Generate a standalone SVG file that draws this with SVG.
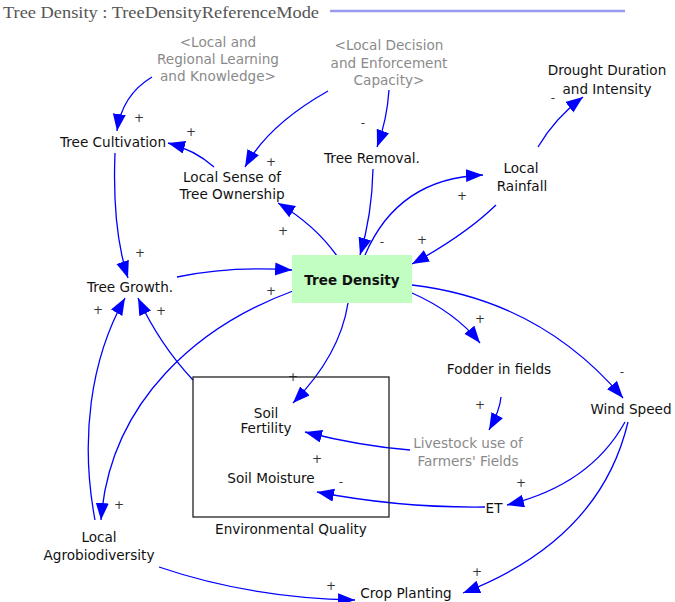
<svg xmlns="http://www.w3.org/2000/svg" width="675" height="602" viewBox="0 0 675 602">
<style>
.t{font-family:"DejaVu Sans","Liberation Sans",sans-serif;font-size:13.6px;fill:#111;text-anchor:middle}
.g{fill:#8a8a8a}
.b{font-weight:bold;font-size:13.5px}
.p{font-family:"DejaVu Sans","Liberation Sans",sans-serif;font-size:12px;fill:#333;text-anchor:middle}
.c{fill:none;stroke:#0000ff;stroke-width:1.3;marker-end:url(#ah)}
</style>
<defs>
<marker id="ah" markerUnits="userSpaceOnUse" markerWidth="20" markerHeight="16" refX="17" refY="6.5" orient="auto">
<path d="M0,0 L17,6.5 L0,13 z" fill="#0000ff"/>
</marker>
</defs>
<rect width="675" height="602" fill="#ffffff"/>
<g id="title">
<text x="3" y="18" font-family="Liberation Serif,serif" font-size="16" fill="#555" textLength="316" lengthAdjust="spacingAndGlyphs">Tree Density : TreeDensityReferenceMode</text>
<line x1="330" y1="11" x2="625" y2="11" stroke="#9a9af0" stroke-width="2.5"/>
</g>
<g id="connectors">
<path class="c" d="M152,77 Q122,95 117,131"/>
<path class="c" d="M328,91 Q268,125 245,167"/>
<path class="c" d="M214,167 Q195,150 168,143"/>
<path class="c" d="M389,90 Q387,120 377,147"/>
<path class="c" d="M373,169 Q372,215 360,255"/>
<path class="c" d="M365,255 Q398,178 483,175"/>
<path class="c" d="M496,205 Q465,235 412,264"/>
<path class="c" d="M538,147 Q555,118 583,97"/>
<path class="c" d="M337,256 Q315,225 278,203"/>
<path class="c" d="M115,153 Q112,230 128,278"/>
<path class="c" d="M177,277 Q230,266 292,270"/>
<path class="c" d="M293,291 C200,325 110,400 101,520"/>
<path class="c" d="M95,520 C80,440 90,360 125,298"/>
<path class="c" d="M193,380 Q160,345 138,298"/>
<path class="c" d="M348,303 Q340,355 293,403"/>
<path class="c" d="M412,293 Q455,312 480,343"/>
<path class="c" d="M412,285 Q540,300 623,398"/>
<path class="c" d="M501,397 Q500,410 489,430"/>
<path class="c" d="M410,450 Q360,446 305,432"/>
<path class="c" d="M625,422 Q590,485 507,505"/>
<path class="c" d="M485,507 Q400,508 317,492"/>
<path class="c" d="M628,422 Q600,540 463,593"/>
<path class="c" d="M159,567 Q250,598 355,600"/>
</g>
<g id="polarities">
<text class="p" x="139" y="122">+</text>
<text class="p" x="191" y="136">+</text>
<text class="p" x="271" y="166">+</text>
<text class="p" x="363" y="127">-</text>
<text class="p" x="553" y="102">-</text>
<text class="p" x="462" y="200">+</text>
<text class="p" x="382" y="246">-</text>
<text class="p" x="422" y="244">+</text>
<text class="p" x="283" y="235">+</text>
<text class="p" x="140" y="257">+</text>
<text class="p" x="271" y="295">+</text>
<text class="p" x="98" y="314">+</text>
<text class="p" x="161" y="315">+</text>
<text class="p" x="480" y="323">+</text>
<text class="p" x="622" y="376">-</text>
<text class="p" x="480" y="409">+</text>
<text class="p" x="521" y="487">+</text>
<text class="p" x="293" y="381">+</text>
<text class="p" x="317" y="463">+</text>
<text class="p" x="341" y="486">-</text>
<text class="p" x="119" y="509">+</text>
<text class="p" x="477" y="576">+</text>
<text class="p" x="331" y="590">+</text>
</g>
<g id="env-quality">
<rect x="193" y="377" width="196" height="140" fill="none" stroke="#222" stroke-width="1.3"/>
<text class="t" x="291" y="534">Environmental Quality</text>
</g>
<g id="local-learning">
<text class="t g" x="218" y="47">&lt;Local and</text>
<text class="t g" x="218" y="64">Regional Learning</text>
<text class="t g" x="218" y="81">and Knowledge&gt;</text>
</g>
<g id="local-decision">
<text class="t g" x="389" y="50">&lt;Local Decision</text>
<text class="t g" x="389" y="68">and Enforcement</text>
<text class="t g" x="389" y="85">Capacity&gt;</text>
</g>
<g id="drought">
<text class="t" x="607" y="75">Drought Duration</text>
<text class="t" x="607" y="94">and Intensity</text>
</g>
<g id="tree-cultivation">
<text class="t" x="113" y="147">Tree Cultivation</text>
</g>
<g id="local-sense">
<text class="t" x="232" y="182">Local Sense of</text>
<text class="t" x="232" y="199">Tree Ownership</text>
</g>
<g id="tree-removal">
<text class="t" x="372" y="163">Tree Removal.</text>
</g>
<g id="local-rainfall">
<text class="t" x="521" y="173">Local</text>
<text class="t" x="522" y="191">Rainfall</text>
</g>
<g id="tree-growth">
<text class="t" x="130" y="292">Tree Growth.</text>
</g>
<g id="tree-density">
<rect x="292" y="255" width="120" height="48" fill="#c2fdc2"/>
<text class="t b" x="352" y="285">Tree Density</text>
</g>
<g id="fodder">
<text class="t" x="499" y="374">Fodder in fields</text>
</g>
<g id="wind-speed">
<text class="t" x="631" y="414">Wind Speed</text>
</g>
<g id="livestock">
<text class="t g" x="468" y="448">Livestock use of</text>
<text class="t g" x="468" y="466">Farmers' Fields</text>
</g>
<g id="et">
<text class="t" x="494" y="513">ET</text>
</g>
<g id="soil-fertility">
<text class="t" x="266" y="418">Soil</text>
<text class="t" x="266" y="433">Fertility</text>
</g>
<g id="soil-moisture">
<text class="t" x="271" y="483">Soil Moisture</text>
</g>
<g id="agrobiodiversity">
<text class="t" x="99" y="542">Local</text>
<text class="t" x="99" y="560">Agrobiodiversity</text>
</g>
<g id="crop-planting">
<text class="t" x="406" y="598">Crop Planting</text>
</g>
</svg>
